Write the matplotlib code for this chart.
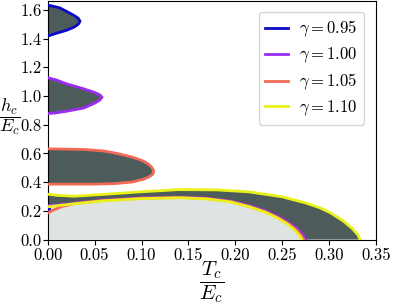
import matplotlib
matplotlib.use("Agg")
import matplotlib.pyplot as plt

plt.rcParams.update(
    {
        "font.family": "serif",
        "font.serif": ["cmr10", "DejaVu Serif"],
        "mathtext.fontset": "cm",
        "axes.formatter.use_mathtext": True,
        "font.size": 12,
    }
)

DARK = "#4e5b5b"
LIGHT = "#dfe3e3"

gammas = ["0.95", "1.00", "1.05", "1.10"]
colors = ["#0a0ac8", "#9a2cf5", "#f26a55", "#e9f216"]

# closed lobes touching T = 0 (T, h)
blue_lobe_T = [0, 0.003, 0.013, 0.020, 0.028, 0.0325, 0.0345, 0.0325, 0.028, 0.020, 0.0096, 0.002, 0]
blue_lobe_h = [1.632, 1.630, 1.614, 1.590, 1.562, 1.542, 1.521, 1.500, 1.480, 1.458, 1.438, 1.422, 1.420]

purple_lobe_T = [0, 0.010, 0.020, 0.038, 0.050, 0.0555, 0.058, 0.0555, 0.050, 0.038, 0.020, 0.008, 0]
purple_lobe_h = [1.128, 1.110, 1.085, 1.051, 1.025, 1.008, 0.992, 0.972, 0.950, 0.916, 0.894, 0.882, 0.878]

red_lobe_T = [0, 0.02, 0.04, 0.06, 0.074, 0.090, 0.100, 0.107, 0.111, 0.113, 0.112, 0.108, 0.102, 0.090, 0.072, 0.05, 0.02, 0]
red_lobe_h = [0.632, 0.630, 0.627, 0.617, 0.600, 0.575, 0.552, 0.528, 0.503, 0.478, 0.455, 0.437, 0.420, 0.401, 0.390, 0.386, 0.386, 0.386]

# outer boundary of the large region (gamma = 1.10)
outer_T = [0, 0.01, 0.028, 0.06, 0.10, 0.14, 0.18, 0.215, 0.25, 0.275, 0.29, 0.302, 0.315, 0.325, 0.331, 0.333]
outer_h = [0.316, 0.308, 0.302, 0.315, 0.333, 0.348, 0.346, 0.332, 0.298, 0.255, 0.222, 0.184, 0.130, 0.075, 0.030, 0.0]

# inner boundaries of the large region
yellow_in_T = [0, 0.005, 0.015, 0.03, 0.06, 0.10, 0.14, 0.17, 0.195, 0.215, 0.232, 0.245, 0.255, 0.263, 0.268, 0.271]
yellow_in_h = [0.228, 0.232, 0.240, 0.250, 0.270, 0.285, 0.291, 0.283, 0.262, 0.228, 0.190, 0.150, 0.110, 0.068, 0.032, 0.0]

red_in_T = [0, 0.006, 0.015, 0.03, 0.06, 0.10, 0.14, 0.17, 0.195, 0.215, 0.233, 0.246, 0.257, 0.265, 0.270, 0.273]
red_in_h = [0.185, 0.205, 0.230, 0.253, 0.273, 0.288, 0.294, 0.286, 0.265, 0.231, 0.192, 0.151, 0.110, 0.068, 0.032, 0.0]

purple_in_T = [0.002, 0.015, 0.03, 0.06, 0.10, 0.14, 0.17, 0.196, 0.217, 0.235, 0.248, 0.259, 0.267, 0.272, 0.275]
purple_in_h = [0.238, 0.244, 0.255, 0.275, 0.290, 0.296, 0.288, 0.267, 0.233, 0.193, 0.152, 0.110, 0.068, 0.032, 0.0]

blue_in_T = [0, 0.002]
blue_in_h = [0.206, 0.212]

fig = plt.figure(figsize=(4.15, 3.04), dpi=100)
ax = fig.add_axes([0.115, 0.212, 0.791, 0.786])

# fills
ax.fill(outer_T + yellow_in_T[::-1], outer_h + yellow_in_h[::-1], color=DARK, lw=0, zorder=1)
ax.fill(yellow_in_T + [0], yellow_in_h + [0], color=LIGHT, lw=0, zorder=1)
for lt, lh in ((blue_lobe_T, blue_lobe_h), (purple_lobe_T, purple_lobe_h), (red_lobe_T, red_lobe_h)):
    ax.fill(lt, lh, color=DARK, lw=0, zorder=1)

lw = 2.0
# gamma = 0.95
ax.plot(blue_lobe_T, blue_lobe_h, color=colors[0], lw=lw, label=r"$\gamma = 0.95$", zorder=3)
ax.plot(blue_in_T, blue_in_h, color=colors[0], lw=lw, zorder=3)
# gamma = 1.00
ax.plot(purple_lobe_T, purple_lobe_h, color=colors[1], lw=lw, label=r"$\gamma = 1.00$", zorder=3)
ax.plot(purple_in_T, purple_in_h, color=colors[1], lw=lw, zorder=3)
# gamma = 1.05
ax.plot(red_lobe_T, red_lobe_h, color=colors[2], lw=lw, label=r"$\gamma = 1.05$", zorder=3)
ax.plot(red_in_T, red_in_h, color=colors[2], lw=lw, zorder=3)
# gamma = 1.10
ax.plot(outer_T, outer_h, color=colors[3], lw=lw, label=r"$\gamma = 1.10$", zorder=3)
ax.plot(yellow_in_T, yellow_in_h, color=colors[3], lw=lw, zorder=3)

ax.set_xlim(0, 0.35)
ax.set_ylim(0, 1.665)
ax.set_xticks([0, 0.05, 0.10, 0.15, 0.20, 0.25, 0.30, 0.35])
ax.set_yticks([0, 0.2, 0.4, 0.6, 0.8, 1.0, 1.2, 1.4, 1.6])
ax.set_xticklabels(["0.00", "0.05", "0.10", "0.15", "0.20", "0.25", "0.30", "0.35"])
ax.set_yticklabels(["0.0", "0.2", "0.4", "0.6", "0.8", "1.0", "1.2", "1.4", "1.6"])
ax.tick_params(axis="x", pad=2)
ax.tick_params(axis="y", pad=1)

ax.set_xlabel(r"$\dfrac{T_c}{E_c}$", fontsize=15, va="center", ha="center")
ax.set_ylabel(r"$\dfrac{h_c}{E_c}$", fontsize=13, rotation=0, va="center", ha="center")
ax.xaxis.set_label_coords(0.5, -0.177)
ax.yaxis.set_label_coords(-0.114, 0.516)

ax.legend(loc="upper right", fontsize=12, labelspacing=0.38, handlelength=1.35,
          handletextpad=0.7, borderaxespad=0.7)

fig.savefig("out.png", dpi=100)
